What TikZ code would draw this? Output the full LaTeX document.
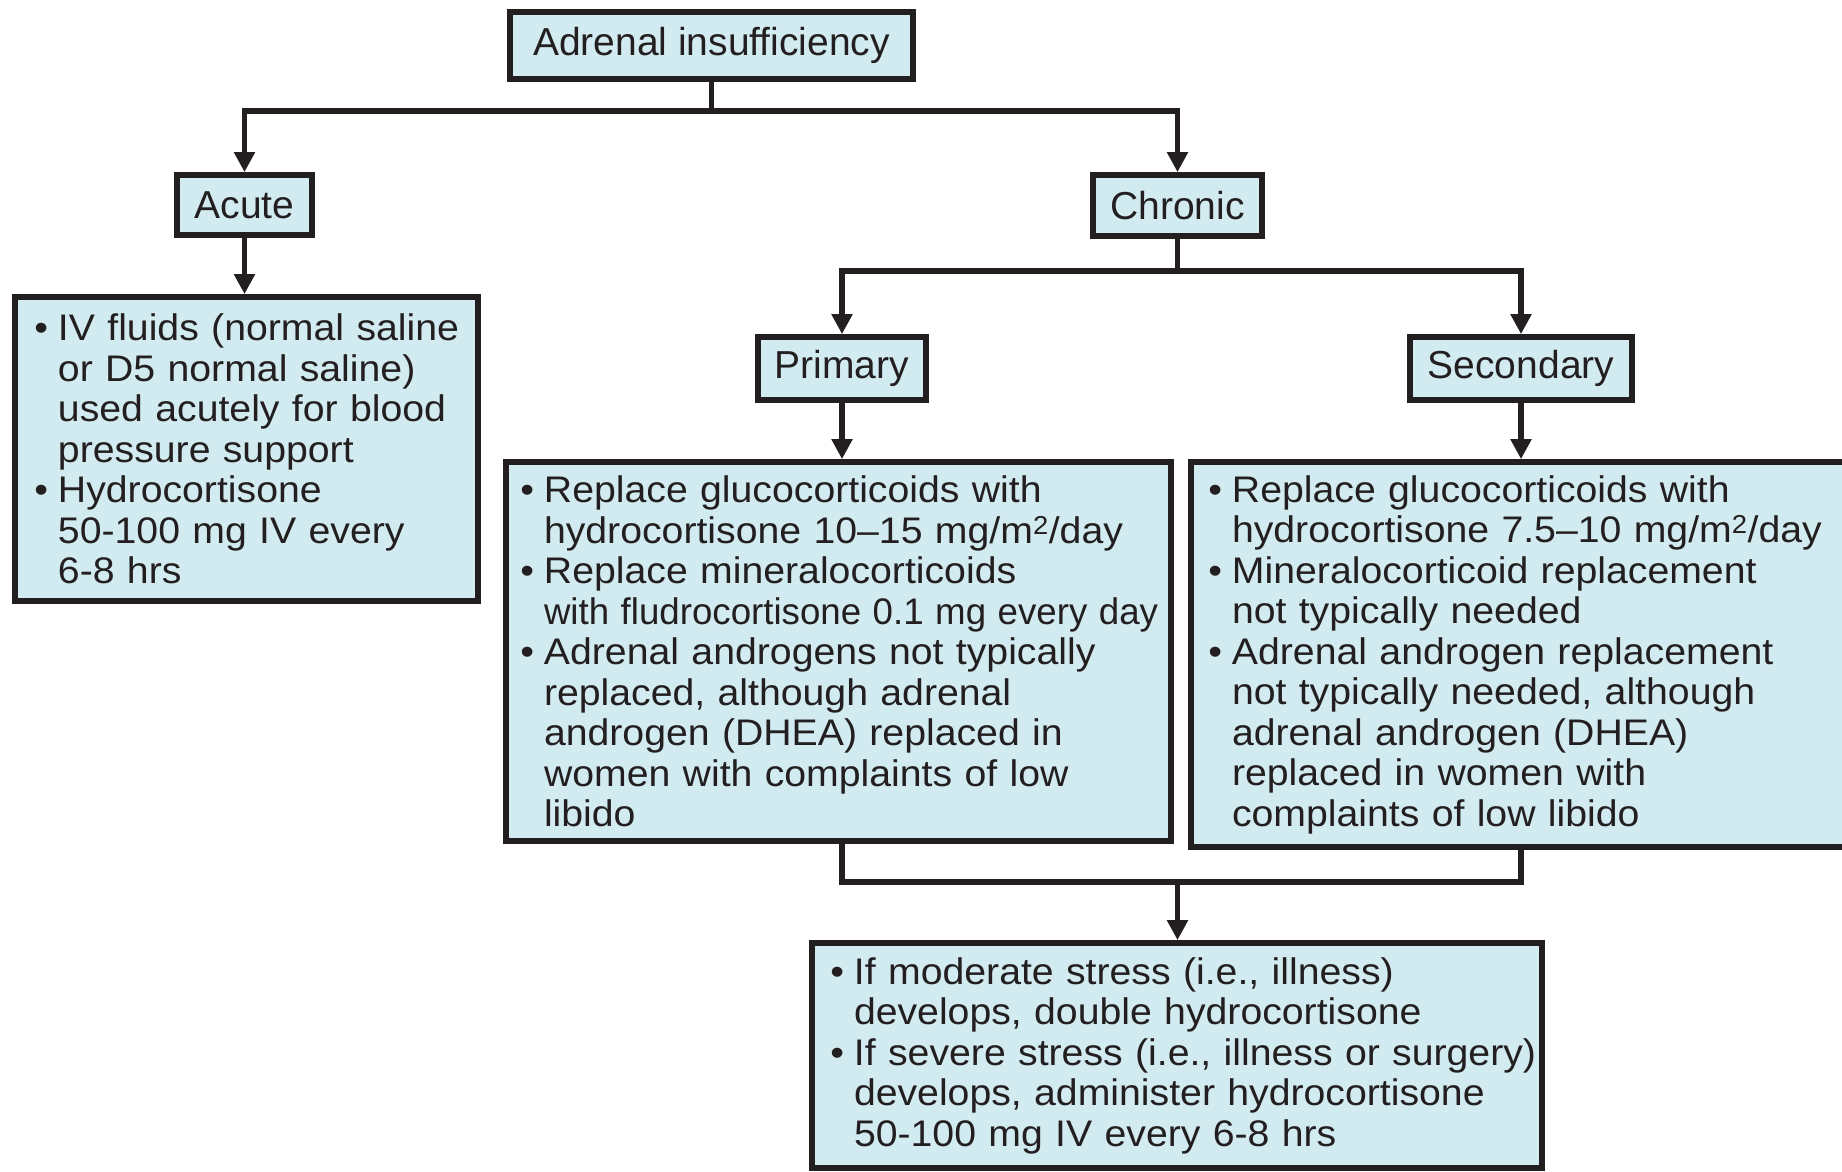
\documentclass[tikz,border=0pt]{standalone}
\usepackage{fontspec}
\usepackage{graphicx}
\setmainfont{Liberation Sans}
% slightly widened face for the panel texts
\newfontfamily\panelfont[Ligatures=TeX, FakeStretch=1.06]{Liberation Sans}
\usetikzlibrary{arrows.meta}

\definecolor{ink}{RGB}{35,31,32}
\definecolor{panel}{RGB}{210,235,240}

% a line of a panel, indented by #1 pt; \bl adds a hanging bullet
\newcommand\bl[1]{\leavevmode\hspace*{#1pt}\llap{\textbullet\hspace{10pt}}}
\newcommand\cl[1]{\leavevmode\hspace*{#1pt}}

\begin{document}
\begin{tikzpicture}[x=1pt,y=-1pt,
  frame/.style={draw=ink, line width=5.7pt, fill=panel, inner sep=0pt, text=ink},
  heading/.style={frame, font=\fontsize{39}{42}\selectfont},
  notes/.style={frame, align=left, font=\panelfont\fontsize{37}{40.5}\selectfont},
  link/.style={draw=ink, line width=5.4pt},
  flow/.style={link, -{Triangle[width=20pt,length=20pt]}},
]
\useasboundingbox (0,0) rectangle (1842,1171);

% headings
\node[heading, minimum width=403pt, minimum height=67pt] (top) at (711.5,45.5) {Adrenal insufficiency};
\node[heading, minimum width=135pt, minimum height=60pt] (acute) at (244.5,205) {Acute};
\node[heading, minimum width=169pt, minimum height=61pt] (chronic) at (1177.5,205.5) {Chronic};
\node[heading, minimum width=168pt, minimum height=63pt] (primary) at (842,368.5) {Primary};
\node[heading, minimum width=222pt, minimum height=63pt] (secondary) at (1521,368.5) {Secondary};

% treatment panels
\node[notes, text width=463pt, minimum height=304pt] (acuteBox) at (246.5,449) {%
\bl{43}IV fluids (normal saline\\
\cl{43}or D5 normal saline)\\
\cl{43}used acutely for blood\\
\cl{43}pressure support\\
\bl{43}Hydrocortisone\\
\cl{43}50-100 mg IV every\\
\cl{43}6-8 hrs};

\node[notes, text width=665pt, minimum height=379pt] (priBox) at (838.5,651.5) {%
\bl{38}Replace glucocorticoids with\\
\cl{38}hydrocortisone 10--15 mg/m\textsuperscript{2}/day\\
\bl{38}Replace mineralocorticoids\\
\cl{38}\scalebox{0.935}[1]{with fludrocortisone 0.1 mg every day}\\
\bl{38}Adrenal androgens not typically\\
\cl{38}replaced, although adrenal\\
\cl{38}androgen (DHEA) replaced in\\
\cl{38}women with complaints of low\\
\cl{38}libido};

\node[notes, text width=709pt, minimum height=385pt] (secBox) at (1545.5,654.5) {%
\bl{41}Replace glucocorticoids with\\
\cl{41}hydrocortisone 7.5--10 mg/m\textsuperscript{2}/day\\
\bl{41}Mineralocorticoid replacement\\
\cl{41}not typically needed\\
\bl{41}Adrenal androgen replacement\\
\cl{41}not typically needed, although\\
\cl{41}adrenal androgen (DHEA)\\
\cl{41}replaced in women with\\
\cl{41}complaints of low libido};

\node[notes, text width=730pt, minimum height=225pt] (botBox) at (1177,1055.5) {%
\bl{42}If moderate stress (i.e., illness)\\
\cl{42}develops, double hydrocortisone\\
\bl{42}If severe stress (i.e., illness or surgery)\\
\cl{42}develops, administer hydrocortisone\\
\cl{42}50-100 mg IV every 6-8 hrs};

% connector levels
\coordinate (lvA) at (0,111);
\coordinate (lvB) at (0,271);
\coordinate (lvC) at (0,882);
\coordinate (jA) at (top.south |- lvA);
\coordinate (jB) at (chronic.south |- lvB);
\coordinate (jC) at (chronic.south |- lvC);

\draw[link] (top.south) -- (jA);
\draw[flow] (jA) -| (acute.north);
\draw[flow] (jA) -| (chronic.north);

\draw[flow] (acute.south) -- (acute.south |- acuteBox.north);

\draw[link] (chronic.south) -- (jB);
\draw[flow] (jB) -| (primary.north);
\draw[flow] (jB) -| (secondary.north);

\draw[flow] (primary.south) -- (primary.south |- priBox.north);
\draw[flow] (secondary.south) -- (secondary.south |- secBox.north);

\draw[link] (primary.south |- priBox.south) -- (primary.south |- lvC)
  -- (secondary.south |- lvC) -- (secondary.south |- secBox.south);
\draw[flow] (jC) -- (jC |- botBox.north);
\end{tikzpicture}
\end{document}
